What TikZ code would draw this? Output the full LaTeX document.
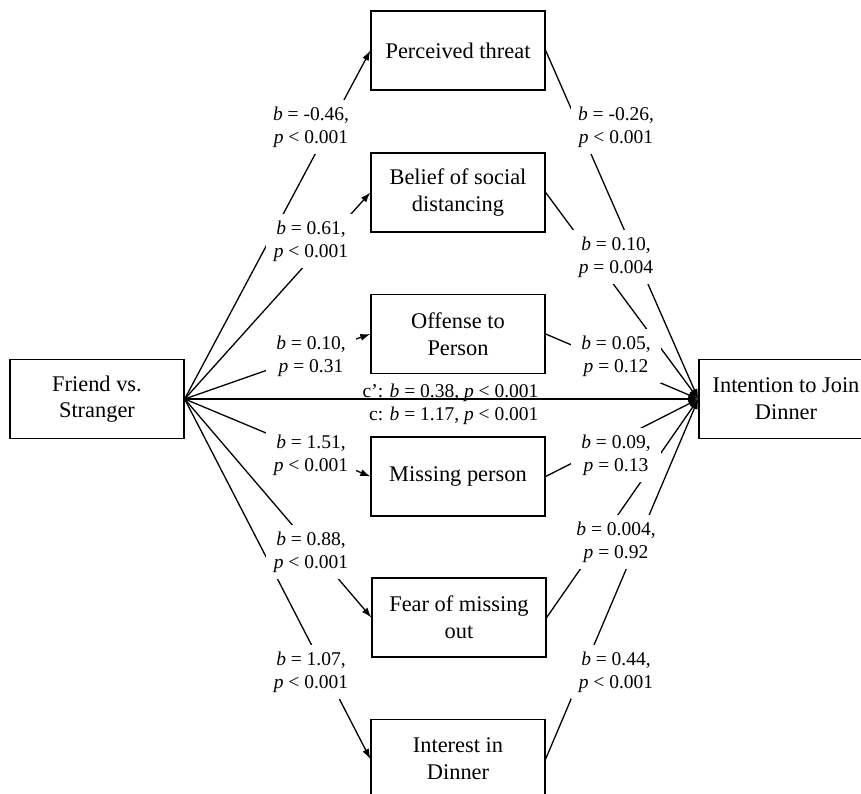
\documentclass[tikz,border=0pt]{standalone}
\usepackage{fontspec}
\setmainfont{Liberation Serif}
\usetikzlibrary{arrows.meta}

\begin{document}
\begin{tikzpicture}[x=1pt, y=-1pt,
  every node/.style = {align=center},
  var/.style = {shape=rectangle, draw, line width=1.3pt, minimum width=174pt, minimum height=79pt, inner sep=2pt, font=\fontsize{22.4}{26.7}\selectfont},
  coef/.style = {fill=white, minimum width=90pt, inner ysep=7pt, font=\fontsize{19.5}{22.7}\selectfont},
  link/.style = {line width=1.3pt, -{Latex[length=10pt,width=7pt]}}]
  \useasboundingbox (0,0) rectangle (861,794);
  % variables
  \node[var] (friend) at (97,399) {Friend vs.\\Stranger};
  \node[var] (intent) at (786,399) {Intention to Join\\Dinner};
  \node[var] (threat) at (458,50.5) {Perceived threat};
  \node[var] (belief) at (458,192.5) {Belief of social\\distancing};
  \node[var] (offense) at (458,334) {Offense to\\Person};
  \node[var] (missing) at (458,476.5) {Missing person};
  \node[var] (fear) at (459,617.5) {Fear of missing\\out};
  \node[var] (interest) at (458,759) {Interest in\\Dinner};
  % a paths
  \draw[link] (friend.east) -- (threat.west);
  \draw[link] (friend.east) -- (belief.west);
  \draw[link] (friend.east) -- (offense.west);
  \draw[link] (friend.east) -- (missing.west);
  \draw[link] (friend.east) -- (fear.west);
  \draw[link] (friend.east) -- (interest.west);
  % b paths
  \draw[link] (threat.east) -- (intent.west);
  \draw[link] (belief.east) -- (intent.west);
  \draw[link] (offense.east) -- (intent.west);
  \draw[link] (missing.east) -- (intent.west);
  \draw[link] (fear.east) -- (intent.west);
  \draw[link] (interest.east) -- (intent.west);
  % direct path
  \draw[link] (friend.east) -- (intent.west);
  \node[anchor=base east, font=\fontsize{19.5}{22.7}\selectfont] (cdirect) at (542,397) {c’: \textit{b} = 0.38, \textit{p} < 0.001};
  \node[anchor=base east, font=\fontsize{19.5}{22.7}\selectfont] (ctotal) at (542,420) {c: \textit{b} = 1.17, \textit{p} < 0.001};
  % coefficients
  \node[coef] (a1) at (311,127) {\textit{b} = -0.46,\\\textit{p} < 0.001};
  \node[coef] (a2) at (311,241) {\textit{b} = 0.61,\\\textit{p} < 0.001};
  \node[coef] (a3) at (311,356) {\textit{b} = 0.10,\\\textit{p} = 0.31};
  \node[coef] (a4) at (311,455) {\textit{b} = 1.51,\\\textit{p} < 0.001};
  \node[coef] (a5) at (311,552) {\textit{b} = 0.88,\\\textit{p} < 0.001};
  \node[coef] (a6) at (311,672) {\textit{b} = 1.07,\\\textit{p} < 0.001};
  \node[coef] (b1) at (616,127) {\textit{b} = -0.26,\\\textit{p} < 0.001};
  \node[coef] (b2) at (616,257) {\textit{b} = 0.10,\\\textit{p} = 0.004};
  \node[coef] (b3) at (616,356) {\textit{b} = 0.05,\\\textit{p} = 0.12};
  \node[coef] (b4) at (616,455) {\textit{b} = 0.09,\\\textit{p} = 0.13};
  \node[coef] (b5) at (616,542) {\textit{b} = 0.004,\\\textit{p} = 0.92};
  \node[coef] (b6) at (616,672) {\textit{b} = 0.44,\\\textit{p} < 0.001};
\end{tikzpicture}
\end{document}
